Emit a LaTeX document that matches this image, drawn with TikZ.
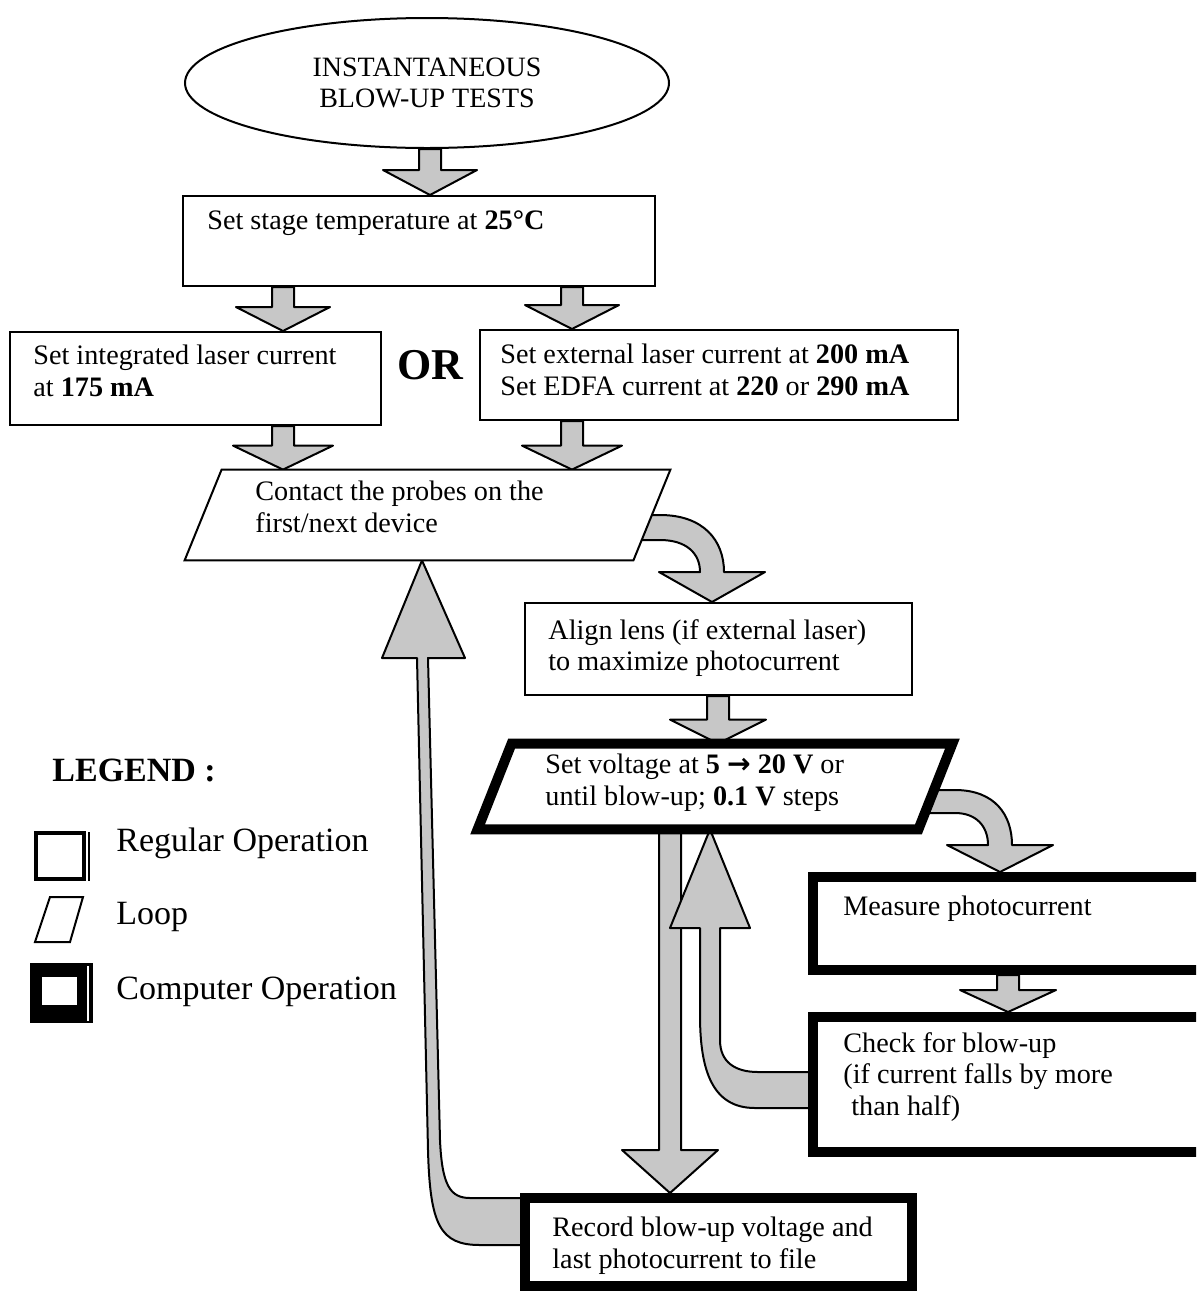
\documentclass[tikz,border=0pt]{standalone}
\usepackage{fontspec}
\setmainfont{Liberation Serif}
\newfontfamily\arrowfont{DejaVu Sans}
\usetikzlibrary{calc,shapes.geometric,backgrounds}

% vertical block arrow: #1 start point, #2 tip, #3 head length, #4 head half width
\newcommand\vblock[4]{%
  \filldraw[blockfill] let \p1=(#1), \p2=(#2), \n1={sign(\y1-\y2)} in
    (\x2-5.5pt,\y1) -- (\x2-5.5pt,\y2+\n1*#3) -- (\x2-#4,\y2+\n1*#3) -- (\x2,\y2)
    -- (\x2+#4,\y2+\n1*#3) -- (\x2+5.5pt,\y2+\n1*#3) -- (\x2+5.5pt,\y1) -- cycle;}

% slanted outline over the extent of a frame node: #1 style, #2 node, #3 slant
\newcommand\slantframe[3]{%
  \filldraw[#1] (#2.south west) -- ($(#2.south east)+(-#3,0)$) -- (#2.north east)
    -- ($(#2.north west)+(#3,0)$) -- cycle;}

\tikzset{
  regbox/.style={rectangle, draw, line width=1pt, fill=white, inner sep=0pt},
  compbox/.style={rectangle, draw, line width=5pt, fill=white, inner sep=0pt},
  frame/.style={rectangle, inner sep=0pt},
  loopline/.style={draw, line width=1pt, fill=white},
  comploopline/.style={draw, line width=5pt, fill=white, line join=miter},
  startbox/.style={ellipse, draw, line width=1pt, fill=white, inner sep=0pt,
    minimum width=242pt, minimum height=65pt, align=center, font=\fontsize{14}{15.8}\selectfont},
  txt/.style={anchor=north west, inner sep=0pt, align=left, font=\fontsize{14.1}{15.7}\selectfont},
  ortxt/.style={inner sep=0pt, font=\fontsize{22}{24}\selectfont\bfseries},
  legtitle/.style={anchor=west, inner sep=0pt, font=\fontsize{17}{20}\selectfont\bfseries},
  legtxt/.style={anchor=west, inner sep=0pt, font=\fontsize{17}{20}\selectfont},
  blockfill/.style={draw, line width=1pt, fill=black!22, line join=round},
}

\begin{document}
\begin{tikzpicture}[x=0.5pt,y=-0.5pt]
\useasboundingbox (0,0) rectangle (1196,1291);
\clip (0,0) rectangle (1196,1291);

% columns along which the straight connectors run
\coordinate (colS) at (430,0);
\coordinate (colL) at (283,0);
\coordinate (colR) at (572,0);
\coordinate (colA) at (712,0);
\coordinate (colV) at (718,0);
\coordinate (colM) at (1000,0);
\coordinate (colC) at (1008,0);
\coordinate (colD) at (670,0);
\coordinate (colU) at (710,0);
\coordinate (colB) at (422,0);

% flow chart steps
\node[startbox] (start) at (427,83) {INSTANTANEOUS\\BLOW-UP TESTS};

\node[regbox, minimum width=236pt, minimum height=45pt] (stage) at (419,241) {};
\node[txt] (stage-t) at (207,210) {Set stage temperature at \textbf{25°C}};

\node[regbox, minimum width=185.5pt, minimum height=46.5pt] (lint) at (195.5,378.5) {};
\node[txt] (lint-t) at (33,345) {Set integrated laser current\\at \textbf{175 mA}};

\node[regbox, minimum width=239pt, minimum height=45pt] (lext) at (719,375) {};
\node[txt] (lext-t) at (500,344) {Set external laser current at \textbf{200 mA}\\Set EDFA current at \textbf{220} or \textbf{290 mA}};

\node[ortxt] (or) at (430,365) {OR};

\node[frame, minimum width=242.5pt, minimum height=45pt] (contact) at (427.5,515) {};
\slantframe{loopline}{contact}{37}
\node[txt] (contact-t) at (255,481) {Contact the probes on the\\first/next device};

\node[regbox, minimum width=193.5pt, minimum height=46pt] (align) at (718.5,649) {};
\node[txt] (align-t) at (548,619) {Align lens (if external laser)\\to maximize photocurrent};

\node[frame, minimum width=237pt, minimum height=42.5pt] (volt) at (715,786.5) {};
\slantframe{comploopline}{volt}{34}
\node[txt] (volt-t) at (545,754) {Set voltage at \textbf{5 {\arrowfont →} 20 V} or\\until blow-up; \textbf{0.1 V} steps};

\node[compbox, minimum width=213.5pt, minimum height=46.5pt] (measure) at (1026.5,923.5) {};
\node[txt] (measure-t) at (843,896) {Measure photocurrent};

\node[compbox, minimum width=213.5pt, minimum height=67.5pt] (check) at (1026.5,1084.5) {};
\node[txt] (check-t) at (843,1032) {Check for blow-up\\(if current falls by more\\\hspace*{4pt}than half)};

\node[compbox, minimum width=193.5pt, minimum height=44pt] (record) at (718,1242) {};
\node[txt] (record-t) at (552,1217) {Record blow-up voltage and\\last photocurrent to file};

% legend
\node[legtitle] (legend) at (52,770) {LEGEND :};
\draw[line width=2pt] (36,833) rectangle (84,879);
\draw[line width=0.9pt] (89,832) -- (89,881);
\node[legtxt] (leg-reg) at (116,843) {Regular Operation};
\draw[line width=1pt] (35,942) -- (70,942) -- (83,897) -- (50,897) -- cycle;
\node[legtxt] (leg-loop) at (116,917) {Loop};
\fill (30,963) rectangle (93,1023);
\fill[white] (42,977) rectangle (77,1005);
\draw[white, line width=1.2pt] (88,966) -- (88,1021);
\node[legtxt] (leg-comp) at (116,992) {Computer Operation};

% block-arrow connectors, kept behind the boxes
\begin{pgfonlayer}{background}
\vblock{start.south -| colS}{stage.north -| colS}{12.5pt}{23.5pt}
\vblock{stage.south -| colL}{lint.north -| colL}{12pt}{23.5pt}
\vblock{stage.south -| colR}{lext.north -| colR}{12pt}{23.5pt}
\vblock{lint.south -| colL}{contact.north -| colL}{12pt}{25pt}
\vblock{lext.south -| colR}{contact.north -| colR}{12pt}{25pt}
\vblock{align.south -| colV}{volt.north -| colV}{12pt}{24pt}
\vblock{measure.south -| colC}{check.north -| colC}{11pt}{24pt}
\vblock{volt.south -| colD}{record.north -| colD}{21.5pt}{24pt}

% contact -> align, curving down from the right side
\filldraw[blockfill] (630,515) -- (660,515) .. controls (703,515) and (724,540) .. (724,572)
  -- (765,572) -- (align.north -| colA) -- (659,572) -- (700,572)
  .. controls (700,553) and (686,540) .. (660,540) -- (630,540) -- cycle;

% voltage -> measure
\filldraw[blockfill] (925,790) -- (955,790) .. controls (995,790) and (1012,815) .. (1012,845)
  -- (1053,845) -- (measure.north -| colM) -- (947,845) -- (988,845)
  .. controls (988,826) and (976,813) .. (955,813) -- (925,813) -- cycle;

% check -> voltage (next step)
\filldraw[blockfill] (820,1108) -- (755,1108) .. controls (712,1108) and (700,1070) .. (700,1015)
  -- (700,928) -- (670,928) -- (volt.south -| colU) -- (750,928) -- (720,928)
  -- (720,1040) .. controls (720,1062) and (735,1072) .. (758,1072) -- (820,1072) -- cycle;

% record -> contact (next device)
\filldraw[blockfill] (530,1245) -- (480,1245) .. controls (440,1245) and (430,1225) .. (428,1150)
  -- (417,658) -- (382,658) -- (contact.south -| colB) -- (465,658) -- (428,658)
  -- (440,1140) .. controls (442,1185) and (450,1198) .. (470,1198) -- (530,1198) -- cycle;
\end{pgfonlayer}
\end{tikzpicture}
\end{document}
